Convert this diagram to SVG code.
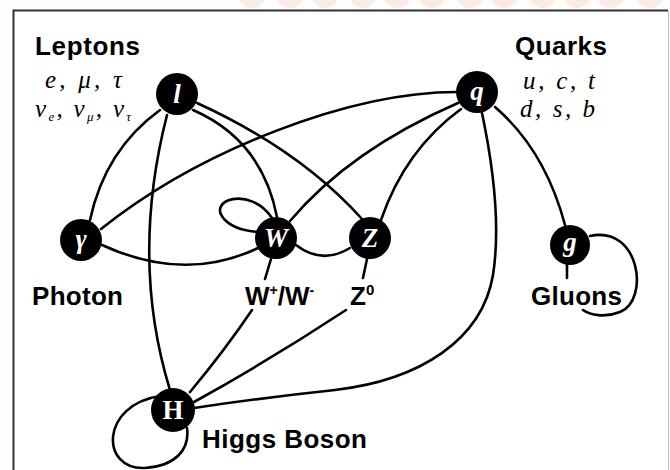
<svg xmlns="http://www.w3.org/2000/svg" width="670" height="470" viewBox="0 0 670 470">
<style>
.edge{fill:none;stroke:#000;stroke-width:2.6;stroke-linecap:round}
.node{fill:#000}
.sym{fill:#fff;font-family:"Liberation Serif",serif;font-style:italic;font-weight:bold;font-size:27px;text-anchor:middle}
.up{font-style:normal}
.lab{fill:#000;font-family:"Liberation Sans",Arial,sans-serif;font-weight:bold;font-size:26px}
.it{fill:#000;font-family:"Liberation Serif",serif;font-style:italic;font-size:25px}
</style>
<rect x="0" y="0" width="670" height="470" fill="#fdfdfd"/>
<g fill="#fcebe2">
<circle cx="252" cy="-6" r="14"/><circle cx="290" cy="-6" r="14"/><circle cx="325" cy="-6" r="14"/><circle cx="363" cy="-6" r="14"/><circle cx="397" cy="-6" r="14"/><circle cx="432" cy="-6" r="14"/><circle cx="470" cy="-6" r="14"/><circle cx="504" cy="-6" r="14"/><circle cx="543" cy="-6" r="14"/><circle cx="577" cy="-6" r="14"/><circle cx="611" cy="-6" r="14"/><circle cx="650" cy="-6" r="14"/>
</g>
<rect x="13" y="11" width="656" height="470" fill="#fff"/>
<path d="M13.5 470 V10.5 H668" fill="none" stroke="#333" stroke-width="2"/>
<path d="M668.5 11 V470" fill="none" stroke="#bbb" stroke-width="1"/>
<g id="connectors">
<path class="edge" d="M160 110 Q 105 150 90 220"/>
<path class="edge" d="M167 115 Q 130 260 170 390"/>
<path class="edge" d="M193 110 Q 262 140 277 217"/>
<path class="edge" d="M197 103 Q 300 150 362 219"/>
<path class="edge" d="M457 92 C 350 92 200 150 101 229"/>
<path class="edge" d="M458 103 Q 350 150 290 221"/>
<path class="edge" d="M461 109 Q 405 150 381 220"/>
<path class="edge" d="M482 113 C 494 170 500 230 493 275 C 482 340 420 380 335 390 Q 260 398 194 408"/>
<path class="edge" d="M272 218 C 250 185 205 200 225 220 C 235 230 250 231 258 232"/>
<path class="edge" d="M102 245 Q 185 283 258 248"/>
<path class="edge" d="M296 245 Q 322 265 350 248"/>
<path class="edge" d="M271 259 L265 279 M252 310 Q 225 350 190 392"/>
<path class="edge" d="M367 259 L363 278 M346 310 Q 270 360 194 402"/>
<path class="edge" d="M495 107 Q 545 150 565 225"/>
<path class="edge" d="M567 264 L567 278"/>
<path class="edge" d="M590 236 C 640 225 650 300 620 312 C 605 318 590 315 583 310"/>
<path class="edge" d="M160 396 C 100 405 100 470 145 468 C 175 466 190 450 187 428"/>
</g>
<g id="node-l"><circle class="node" cx="177" cy="94" r="21"/><text class="sym" x="177" y="103">l</text></g>
<g id="node-q"><circle class="node" cx="477" cy="92" r="21"/><text class="sym" x="477" y="100">q</text></g>
<g id="node-photon"><circle class="node" cx="81" cy="240" r="21"/><text class="sym" x="81" y="248">γ</text></g>
<g id="node-W"><circle class="node" cx="276" cy="238" r="21"/><text class="sym" x="276" y="247">W</text></g>
<g id="node-Z"><circle class="node" cx="370" cy="238" r="21"/><text class="sym" x="370" y="247">Z</text></g>
<g id="node-g"><circle class="node" cx="570" cy="245" r="20"/><text class="sym" x="570" y="251">g</text></g>
<g id="node-H"><circle class="node" cx="173" cy="410" r="22"/><text class="sym up" x="173" y="419">H</text></g>
<g id="labels">
<text class="lab" x="35" y="55" textLength="105" lengthAdjust="spacing">Leptons</text>
<text class="it" x="45" y="88" textLength="77" lengthAdjust="spacing">e, μ, τ</text>
<text class="it" x="35" y="117" textLength="96" lengthAdjust="spacing">ν<tspan font-size="13" dy="4">e</tspan><tspan dy="-4">, ν</tspan><tspan font-size="13" dy="4">μ</tspan><tspan dy="-4">, ν</tspan><tspan font-size="13" dy="4">τ</tspan></text>
<text class="lab" x="515" y="55" textLength="92" lengthAdjust="spacing">Quarks</text>
<text class="it" x="523" y="89" textLength="72" lengthAdjust="spacing">u, c, t</text>
<text class="it" x="520" y="117" textLength="75" lengthAdjust="spacing">d, s, b</text>
<text class="lab" x="32" y="305" textLength="91" lengthAdjust="spacing">Photon</text>
<text class="lab" x="245" y="305">W<tspan font-size="14" dy="-10">+</tspan><tspan dy="10">/W</tspan><tspan font-size="14" dy="-10">-</tspan></text>
<text class="lab" x="350" y="305">Z<tspan font-size="15" dy="-10">0</tspan></text>
<text class="lab" x="531" y="305" textLength="91" lengthAdjust="spacing">Gluons</text>
<text class="lab" x="202" y="448" textLength="165" lengthAdjust="spacing">Higgs Boson</text>
</g>
</svg>
